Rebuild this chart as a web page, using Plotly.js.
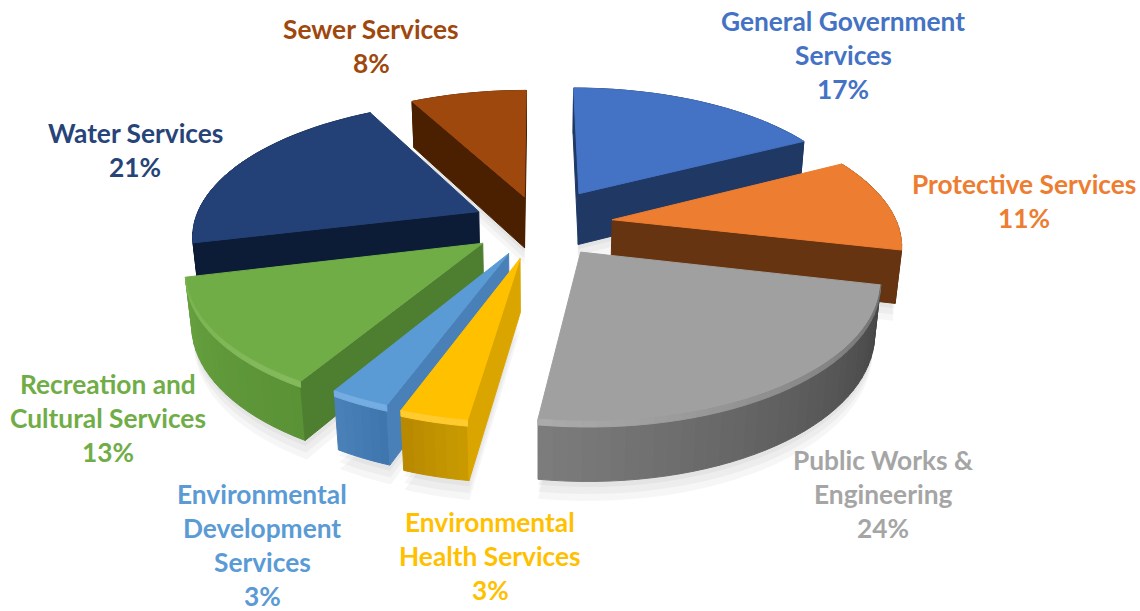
<!DOCTYPE html>
<html><head><meta charset="utf-8">
<script src="https://cdn.plot.ly/plotly-3.0.1.min.js"></script>
<style>html,body{margin:0;padding:0;background:#fff}</style></head>
<body><div id="chart" style="width:1140px;height:611px"></div>
<script>
// ---- chart data ----
const categories = ["General Government Services","Protective Services","Public Works & Engineering","Environmental Health Services","Environmental Development Services","Recreation and Cultural Services","Water Services","Sewer Services"];
const values = [17.4,11.2,23.7,3.3,2.9,12.7,21.0,7.8];
const labelLines = [["General Government","Services"],["Protective Services"],["Public Works &","Engineering"],["Environmental","Health Services"],["Environmental","Development","Services"],["Recreation and","Cultural Services"],["Water Services"],["Sewer Services"]];
// ---- styling ----
const pulls = [0.28,0.26,0.25,0.26,0.24,0.24,0.235,0.22];
const radii = [1,1,1,0.96,0.97,1,1,1];
const topColors = ["#4472C4","#ED7D31","#A0A0A0","#FFC000","#5B9BD5","#70AD47","#234176","#9E480E"];
const textColors = ["#4472C4","#ED7D31","#A5A5A5","#FFC000","#5B9BD5","#70AD47","#264478","#9E480E"];
const outerA = ["#1F3864","#663410","#7c7c7c","#B98A00","#4A80B8","#66A03E","#0C1B36","#4A2000"];
const outerB = ["#1F3864","#663410","#444444","#C89A00","#3F76AE","#5A9236","#0C1B36","#4A2000"];
const sideColors = ["#1F3864","#663410","#555555","#DBA500","#4A80B8","#4E7F31","#0C1B36","#4A2000"];
const rimA = [null,null,"#6f6f6f","#FFCB2E","#74ADE2","#84BA5C",null,null];
const rimB = [null,null,"#ababab","#FFCB2E","#74ADE2","#7AB451",null,null];
const labelX = [843,1024,883,490,262,108,135,371];
const labelY = [21,184,460,522,494,384,133,29];
const lineStep = 34;
// ---- projection of the tilted pie ----
const cx=539, cy=224, F=1568, D=5.5, el=27.5*Math.PI/180, H=0.21, c=Math.cos(el), u=Math.sin(el);
function P(x,y,z){const d=D+y*c-z*u;return [cx+F*x/d,cy-F*(y*u+z*c)/d];}
function mix(a,b,t){const p=s=>[1,3,5].map(i=>parseInt(s.substr(i,2),16));const A=p(a),B=p(b);return "rgb("+A.map((v,i)=>Math.round(v+(B[i]-v)*t)).join(",")+")";}
function poly(pts,color){return {type:"scatter",mode:"lines",x:pts.map(p=>p[0]).concat(pts[0][0]),y:pts.map(p=>p[1]).concat(pts[0][1]),fill:"toself",fillcolor:color,line:{color:color,width:1},hoverinfo:"skip",showlegend:false};}
function shadow(pts,color){const t=poly(pts,color);t.line={width:0,color:color};return t;}
function area(q){let s=0;q.forEach((p,i)=>{const n=q[(i+1)%q.length];s+=p[0]*n[1]-n[0]*p[1];});return s/2;}
const total=values.reduce((a,b)=>a+b,0);
let acc=0;
const slices=values.map((v,i)=>{const a0=acc/total*2*Math.PI;acc+=v;const a1=acc/total*2*Math.PI;return {i,a0,a1,mid:(a0+a1)/2};});
const traces=[];
const ordered=slices.slice().sort((p,q)=>Math.cos(q.mid)-Math.cos(p.mid));
// faint soft shadow below the whole pie
[0.07,0.045,0.02].forEach(extra=>ordered.forEach(s=>{
  const i=s.i, R=radii[i], ox=pulls[i]*Math.sin(s.mid), oy=pulls[i]*Math.cos(s.mid), n=24, pts=[P(ox,oy,-H-extra)];
  for(let k=0;k<=n;k++){const a=s.a0+(s.a1-s.a0)*k/n;pts.push(P(ox+R*Math.sin(a),oy+R*Math.cos(a),-H-extra));}
  traces.push(shadow(pts,"rgba(0,0,0,0.035)"));
}));
ordered.forEach(s=>{
  const i=s.i, R=radii[i], ox=pulls[i]*Math.sin(s.mid), oy=pulls[i]*Math.cos(s.mid);
  const W=(a,z)=>P(ox+R*Math.sin(a),oy+R*Math.cos(a),z);
  const n=Math.max(6,Math.round((s.a1-s.a0)*24));
  const apexT=P(ox,oy,0), apexB=P(ox,oy,-H);
  // outer wall
  for(let k=0;k<n;k++){
    const a=s.a0+(s.a1-s.a0)*k/n,b=s.a0+(s.a1-s.a0)*(k+1)/n;
    traces.push(poly([W(b,0),W(a,0),W(a,-H),W(b,-H)],mix(outerB[i],outerA[i],k/(n-1))));
  }
  // side faces, only those turned towards the viewer
  const q0=[apexT,W(s.a0,0),W(s.a0,-H),apexB];
  const q1=[W(s.a1,0),apexT,apexB,W(s.a1,-H)];
  [q0,q1].forEach(q=>{ if(area(q)<0) traces.push(poly(q,sideColors[i])); });
  // top face
  const top=[apexT];
  for(let k=0;k<=n;k++) top.push(W(s.a0+(s.a1-s.a0)*k/n,0));
  traces.push(poly(top,topColors[i]));
  // rounded rim highlight
  if(rimA[i]){
    for(let k=0;k<n;k++){
      const a=s.a0+(s.a1-s.a0)*k/n,b=s.a0+(s.a1-s.a0)*(k+1)/n;
      traces.push(poly([W(b,0),W(a,0),W(a,-0.02),W(b,-0.02)],mix(rimA[i],rimB[i],k/(n-1))));
    }
  }
});
// ---- labels ----
const annotations=[];
labelLines.forEach((lines,i)=>{
  lines.concat(Math.round(values[i])+"%").forEach((t,k)=>{
    annotations.push({x:labelX[i],y:labelY[i]+k*lineStep,xref:"x",yref:"y",text:t,showarrow:false,xanchor:"center",yanchor:"middle",
      font:{family:"Lato, sans-serif",size:26.3,color:textColors[i],weight:700}});
  });
});
Plotly.newPlot("chart",traces,{
  width:1140,height:611,margin:{l:0,r:0,t:0,b:0},paper_bgcolor:"#fff",plot_bgcolor:"#fff",showlegend:false,
  xaxis:{range:[0,1140],visible:false,fixedrange:true},
  yaxis:{range:[611,0],visible:false,fixedrange:true},
  annotations
},{displayModeBar:false,staticPlot:true});
</script></body></html>
